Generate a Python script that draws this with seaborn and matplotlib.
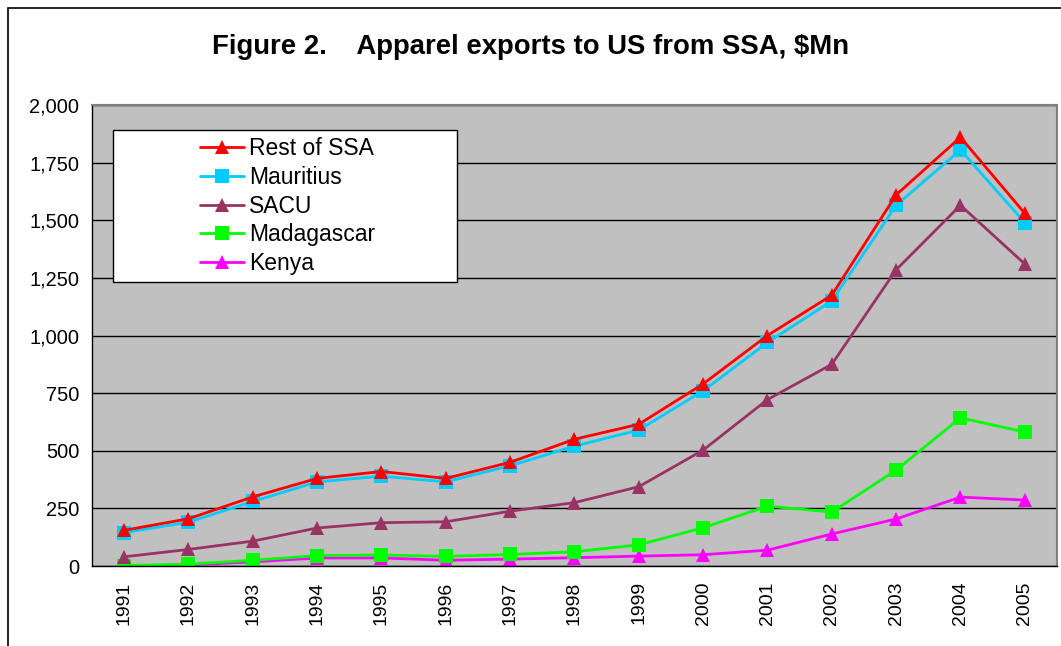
# Apparel exports to US from SSA, $Mn
import pandas as pd
import matplotlib
matplotlib.use("Agg")
import matplotlib.pyplot as plt
import matplotlib.ticker as mticker
from matplotlib.patches import Rectangle
import seaborn as sns

years = [str(y) for y in range(1991, 2006)]
rest_of_ssa = [155, 205, 300, 380, 410, 380, 450, 550, 615, 790, 1000, 1175, 1610, 1860, 1530]
mauritius = [145, 190, 280, 365, 390, 365, 435, 520, 590, 760, 970, 1150, 1565, 1805, 1490]
sacu = [40, 72, 108, 165, 188, 192, 238, 275, 344, 503, 722, 875, 1285, 1565, 1310]
madagascar = [2, 8, 25, 45, 48, 42, 50, 62, 92, 166, 260, 234, 416, 643, 581]
kenya = [0, 5, 18, 35, 35, 25, 30, 36, 43, 49, 69, 139, 204, 299, 286]

series_names = ["Rest of SSA", "Mauritius", "SACU", "Madagascar", "Kenya"]
series_vals = [rest_of_ssa, mauritius, sacu, madagascar, kenya]
colors = {"Rest of SSA": "#FF0000", "Mauritius": "#00CCFF", "SACU": "#993366",
          "Madagascar": "#00FF00", "Kenya": "#FF00FF"}
markers = {"Rest of SSA": "^", "Mauritius": "s", "SACU": "^",
           "Madagascar": "s", "Kenya": "^"}

rows = []
for name, vals in zip(series_names, series_vals):
    for i, v in enumerate(vals):
        rows.append({"pos": i, "year": years[i], "series": name, "value": v})
df = pd.DataFrame(rows)

sns.set_style("white")
plt.rcParams["font.family"] = ["Liberation Sans", "DejaVu Sans"]
plt.rcParams["text.color"] = "black"
plt.rcParams["xtick.color"] = "black"
plt.rcParams["ytick.color"] = "black"

fig = plt.figure(figsize=(10.61, 6.46), dpi=100)
ax = fig.add_axes([0.0867, 0.1238, 0.9095, 0.7137])
ax.set_facecolor("#C0C0C0")

# draw in reverse so Rest of SSA sits on top
sns.lineplot(data=df, x="pos", y="value", hue="series", style="series",
             hue_order=series_names[::-1], style_order=series_names[::-1],
             palette=colors, markers=markers, dashes=False, markersize=10,
             markeredgewidth=0, linewidth=2, ax=ax)

ax.set_xlim(-0.5, len(years) - 0.5)
ax.set_ylim(0, 2000)
ax.yaxis.set_major_locator(mticker.MultipleLocator(250))
ax.yaxis.set_major_formatter(mticker.FuncFormatter(lambda v, p: f"{int(v):,}"))
ax.grid(axis="y", color="black", linewidth=1)
ax.set_axisbelow(True)

ax.set_xticks([i - 0.5 for i in range(len(years) + 1)])
ax.set_xticklabels([])
ax.set_xticks(range(len(years)), minor=True)
ax.set_xticklabels(years, minor=True, rotation=90, fontsize=14)
ax.tick_params(axis="x", which="major", length=6, width=1, color="black", direction="out")
ax.tick_params(axis="x", which="minor", length=0, pad=11)
ax.tick_params(axis="y", length=6, width=1, color="black", direction="out", labelsize=14.4, pad=3)
ax.set_xlabel("")
ax.set_ylabel("")

for s in ["left", "bottom"]:
    ax.spines[s].set_color("black")
    ax.spines[s].set_linewidth(1)
for s in ["top", "right"]:
    ax.spines[s].set_color("#808080")
    ax.spines[s].set_linewidth(1.5)

# legend, Excel style: white box with entries in the middle
handles, labels = ax.get_legend_handles_labels()
lookup = dict(zip(labels, handles))
ax.get_legend().remove()
ax.add_patch(Rectangle((0.0218, 0.616), 0.356, 0.33, transform=ax.transAxes,
                       facecolor="white", edgecolor="black", linewidth=1, zorder=4))
leg = ax.legend([lookup[n] for n in series_names], series_names, loc="upper left",
                bbox_to_anchor=(0.112, 0.93), frameon=False, fontsize=16.5,
                handlelength=1.9, handletextpad=0.25, labelspacing=0.25,
                borderpad=0, borderaxespad=0)
leg.set_zorder(5)

fig.text(0.5, 0.928, "Figure 2.    Apparel exports to US from SSA, $Mn",
         ha="center", va="center", fontsize=19.8, fontweight="bold")

fig.add_artist(Rectangle((8 / 1061, -0.1), 1.2, 1.1 - 8 / 646, transform=fig.transFigure,
                         fill=False, edgecolor="black", linewidth=1.2))

fig.savefig("out.png", dpi=100)
